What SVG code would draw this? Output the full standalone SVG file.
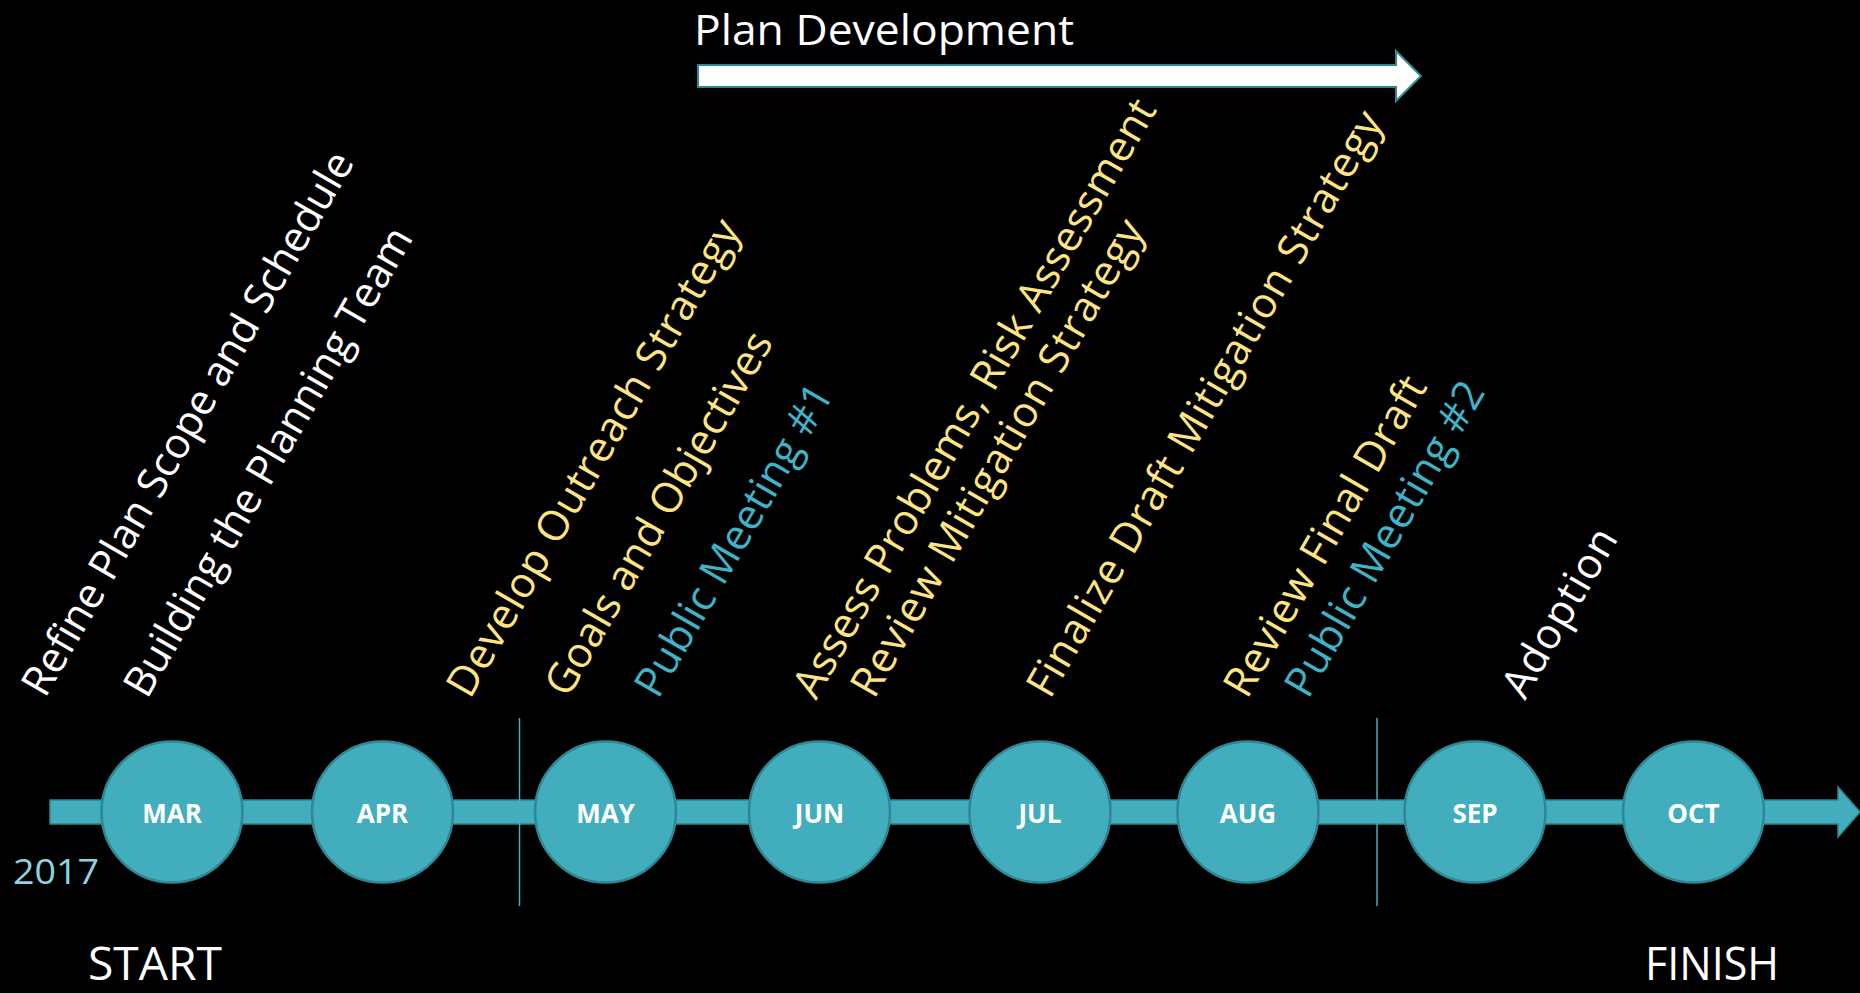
<svg xmlns="http://www.w3.org/2000/svg" width="1860" height="993" viewBox="0 0 1860 993">
<style>
.bg{fill:#000}
.node{fill:#42aebd;stroke:#2e8792;stroke-width:2.5}
.bar{fill:#42aebd;stroke:#2e8792;stroke-width:1.5}
.mon{font-family:"Open Sans","Liberation Sans",sans-serif;font-weight:bold;font-size:26px;fill:#fff;text-anchor:middle}
.lbl{font-family:"Open Sans","Liberation Sans",sans-serif;font-size:42px}
.w{fill:#fff}
.y{fill:#ffe581}
.t{fill:#3fb3c8}
.div{stroke:#42aebd;stroke-width:1.5}
.big{font-family:"Open Sans","Liberation Sans",sans-serif;font-size:46px;fill:#fff}
</style>
<rect class="bg" x="0" y="0" width="1860" height="993"/>

<g id="plan-development">
<text x="694" y="45" font-family="'Open Sans','Liberation Sans',sans-serif" font-size="42" fill="#fff" textLength="380" lengthAdjust="spacingAndGlyphs">Plan Development</text>
<polygon points="698,65 1396,65 1396,51 1421,76 1396,101 1396,87 698,87" fill="#fff" stroke="#2e8792" stroke-width="2"/>
</g>

<g id="connectors">
<polygon class="bar" points="50,800 1838,800 1838,787 1860,812 1838,837 1838,824 50,824"/>
<line class="div" x1="519.5" y1="718" x2="519.5" y2="906"/>
<line class="div" x1="1377" y1="718" x2="1377" y2="906"/>
</g>

<g id="node-mar"><circle class="node" cx="172" cy="812" r="70.5"/><text class="mon" x="172" y="823">MAR</text></g>
<g id="node-apr"><circle class="node" cx="382.5" cy="812" r="70.5"/><text class="mon" x="382.5" y="823">APR</text></g>
<g id="node-may"><circle class="node" cx="605.5" cy="812" r="70.5"/><text class="mon" x="605.5" y="823">MAY</text></g>
<g id="node-jun"><circle class="node" cx="819.5" cy="812" r="70.5"/><text class="mon" x="819.5" y="823">JUN</text></g>
<g id="node-jul"><circle class="node" cx="1040" cy="812" r="70.5"/><text class="mon" x="1040" y="823">JUL</text></g>
<g id="node-aug"><circle class="node" cx="1248" cy="812" r="70.5"/><text class="mon" x="1248" y="823">AUG</text></g>
<g id="node-sep"><circle class="node" cx="1475" cy="812" r="70.5"/><text class="mon" x="1475" y="823">SEP</text></g>
<g id="node-oct"><circle class="node" cx="1693.5" cy="812" r="70.5"/><text class="mon" x="1693.5" y="823">OCT</text></g>

<g id="year"><text x="13" y="884" font-family="'Open Sans','Liberation Sans',sans-serif" font-size="34" fill="#8fd3e0" textLength="86" lengthAdjust="spacingAndGlyphs">2017</text></g>
<g id="start"><text class="big" x="88" y="980" textLength="134" lengthAdjust="spacingAndGlyphs">START</text></g>
<g id="finish"><text class="big" x="1645" y="980" textLength="134" lengthAdjust="spacingAndGlyphs">FINISH</text></g>

<g id="tasks">
<text class="lbl w" transform="translate(45,699) rotate(-60)" textLength="620" lengthAdjust="spacing">Refine Plan Scope and Schedule</text>
<text class="lbl w" transform="translate(147,700) rotate(-60)" textLength="534" lengthAdjust="spacing">Building the Planning Team</text>
<text class="lbl y" transform="translate(470,700) rotate(-60)" textLength="543" lengthAdjust="spacing">Develop Outreach Strategy</text>
<text class="lbl y" transform="translate(568,699) rotate(-60)" textLength="412" lengthAdjust="spacing">Goals and Objectives</text>
<text class="lbl t" transform="translate(658,700) rotate(-60)" textLength="353" lengthAdjust="spacing">Public Meeting #1</text>
<text class="lbl y" transform="translate(816,701) rotate(-60)" textLength="683" lengthAdjust="spacing">Assess Problems, Risk Assessment</text>
<text class="lbl y" transform="translate(874,700) rotate(-60)" textLength="543" lengthAdjust="spacing">Review Mitigation Strategy</text>
<text class="lbl y" transform="translate(1050,700) rotate(-60)" textLength="668" lengthAdjust="spacing">Finalize Draft Mitigation Strategy</text>
<text class="lbl y" transform="translate(1247,700) rotate(-60)" textLength="362" lengthAdjust="spacing">Review Final Draft</text>
<text class="lbl t" transform="translate(1308,700) rotate(-60)" textLength="356" lengthAdjust="spacing">Public Meeting #2</text>
<text class="lbl w" transform="translate(1525,701) rotate(-60)" textLength="188" lengthAdjust="spacing">Adoption</text>
</g>
</svg>
